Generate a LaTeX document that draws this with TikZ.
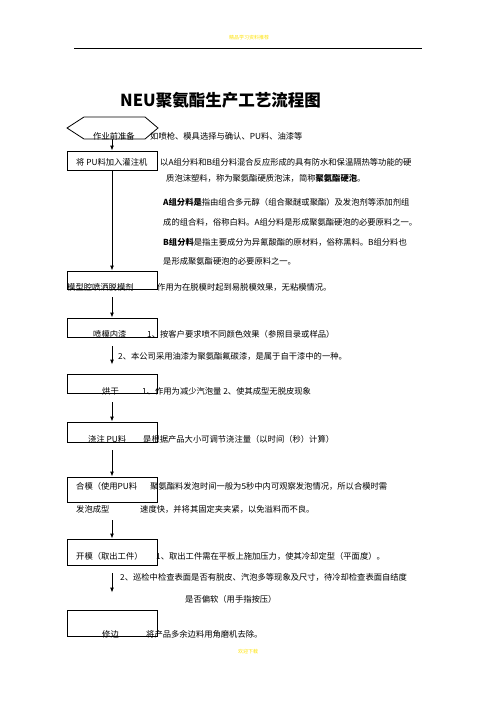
\documentclass[tikz,border=0pt]{standalone}
\usepackage{fontspec}
\setmainfont{Noto Sans CJK SC}
\usetikzlibrary{arrows.meta}

\tikzset{
  box/.style={draw,line width=0.9pt,minimum width=90pt,inner sep=0pt},
  txt/.style={anchor=west,inner sep=0pt,font=\fontsize{8.3}{10}\selectfont},
  flow/.style={-{Latex[length=5pt,width=4pt]},line width=0.9pt},
  pagenote/.style={text=yellow!85!orange,font=\fontsize{5}{6}\selectfont,inner sep=0pt}
}

\begin{document}
\begin{tikzpicture}[x=1pt,y=-1pt]
  \useasboundingbox (0,0) rectangle (496,702);
  % page header
  \node[pagenote] (head) at (249,38) {精品学习资料推荐};
  \draw[line width=0.8pt] (74,48) -- (422,48);
  \node[anchor=west,inner sep=0pt,font=\fontsize{16.5}{18}\selectfont\bfseries] (title) at (120,100) {NEU聚氨酯生产工艺流程图};

  % start
  \draw[line width=0.8pt] (67,128) -- (84,117) -- (145,117) -- (158,128) -- (145,139) -- (84,139) -- cycle;
  \coordinate (prep) at (112,139);
  \node[txt] (preptxt) at (93,136) {作业前准备};
  \node[txt] at (150,136) {如喷枪、模具选择与确认、PU料、油漆等};

  % steps
  \node[box,minimum height=19pt] (fill)    at (112,160.5) {};
  \node[box,minimum height=18pt] (release) at (112,280) {};
  \node[box,minimum height=19pt] (paint)   at (112,327.5) {};
  \node[box,minimum height=19pt] (dry)     at (112,383.5) {};
  \node[box,minimum height=20pt] (pour)    at (112,432) {};
  \node[box,minimum height=25pt] (close)   at (112,489.5) {};
  \node[box,minimum height=26pt] (open)    at (112,552) {};
  \node[box,minimum height=26pt] (trim)    at (112,623) {};

  \node[txt] at (76,162) {将 PU料加入灌注机};
  \node[txt] at (160,162) {以A组分料和B组分料混合反应形成的具有防水和保温隔热等功能的硬};
  \node[txt] at (166,178) {质泡沫塑料，称为聚氨酯硬质泡沫，简称\textbf{聚氨酯硬泡}。};
  \node[txt] at (163,202) {\textbf{A组分料是}指由组合多元醇（组合聚醚或聚酯）及发泡剂等添加剂组};
  \node[txt] at (163,222) {成的组合料，俗称白料。A组分料是形成聚氨酯硬泡的必要原料之一。};
  \node[txt] at (163,242) {\textbf{B组分料}是指主要成分为异氰酸酯的原材料，俗称黑料。B组分料也};
  \node[txt] at (163,261) {是形成聚氨酯硬泡的必要原料之一。};

  \node[txt] at (67,287) {模型腔喷洒脱模剂};
  \node[txt] at (157,287) {作用为在脱模时起到易脱模效果，无粘模情况。};

  \node[txt] at (93,334) {喷模内漆};
  \node[txt] at (147,334) {1、按客户要求喷不同颜色效果（参照目录或样品）};
  \node[txt] at (118,356) {2、本公司采用油漆为聚氨酯氟碳漆，是属于自干漆中的一种。};

  \node[txt] at (102,391) {烘干};
  \node[txt] at (142,391) {1、作用为减少汽泡量 2、使其成型无脱皮现象};

  \node[txt] at (88,439) {浇注 PU料};
  \node[txt] at (143,439) {是根据产品大小可调节浇注量（以时间（秒）计算）};

  \node[txt] at (76,486) {合模（使用PU料};
  \node[txt] at (150,486) {聚氨酯料发泡时间一般为5秒中内可观察发泡情况，所以合模时需};
  \node[txt] at (76,509) {发泡成型};
  \node[txt] at (140,509) {速度快，并将其固定夹夹紧，以免溢料而不良。};

  \node[txt] at (76,556) {开模（取出工件）};
  \node[txt] at (156,556) {1、取出工件需在平板上施加压力，使其冷却定型（平面度）。};
  \node[txt] at (120,577) {2、巡检中检查表面是否有脱皮、汽泡多等现象及尺寸，待冷却检查表面自结度};
  \node[txt] at (185,599) {是否偏软（用手指按压）};

  \node[txt] at (102,634) {修边};
  \node[txt] at (146,634) {将产品多余边料用角磨机去除。};

  % arrows
  \draw[flow] (prep) -- (fill.north);
  \draw[flow] (fill.south) -- (release.north);
  \draw[flow] ([yshift=-8pt]release.south) -- (paint.north);
  \draw[flow] ([yshift=-9pt]paint.south) -- ([yshift=9pt]dry.north);
  \draw[flow] ([yshift=-9pt]dry.south) -- (pour.north);
  \draw[flow] ([yshift=-8pt]pour.south) -- (close.north);
  \draw[flow] ([yshift=-18pt]close.south) -- (open.north);
  \draw[flow] ([yshift=-8pt]open.south) -- ([yshift=17pt]trim.north);

  \node[pagenote] (foot) at (248,652) {欢迎下载};
\end{tikzpicture}
\end{document}
